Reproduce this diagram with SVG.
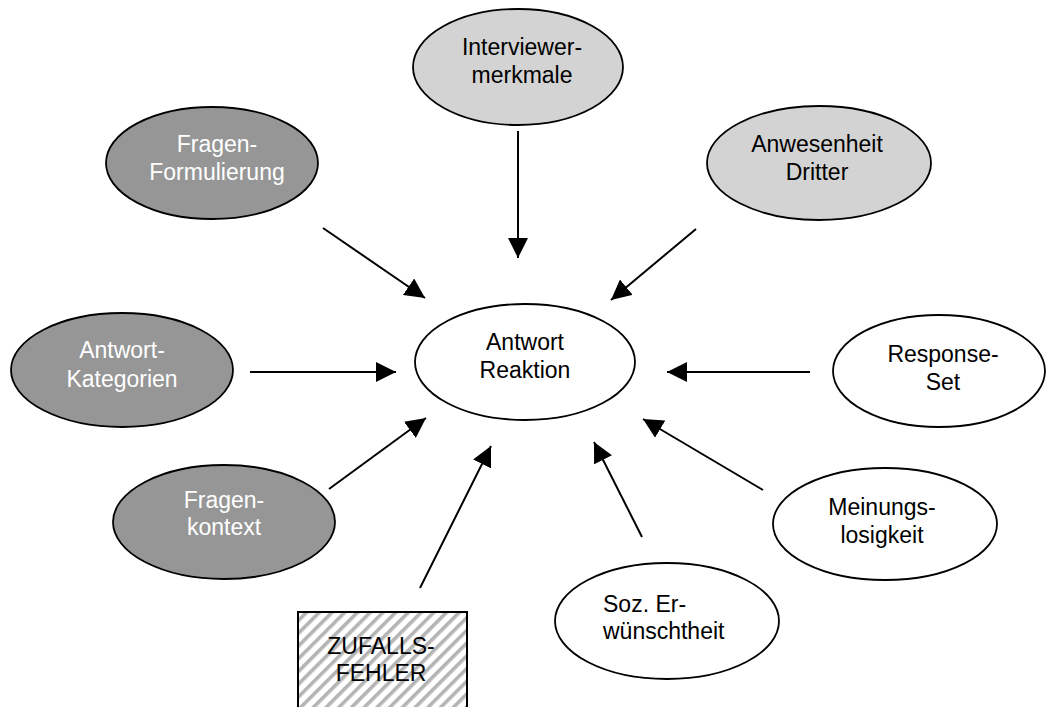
<svg xmlns="http://www.w3.org/2000/svg" width="1046" height="707" viewBox="0 0 1046 707">
<style>
.n{stroke:#000;stroke-width:1.8}
.dark{fill:#969696}
.light{fill:#d3d3d3}
.white{fill:#fff}
text{font-family:"Liberation Sans",Arial,Helvetica,sans-serif;font-size:23px;text-anchor:middle}
.wt{fill:#fff}
.bt{fill:#000}
.c line{stroke:#000;stroke-width:2;marker-end:url(#ah)}
</style>
<defs>
<marker id="ah" markerUnits="userSpaceOnUse" markerWidth="20" markerHeight="20" refX="20" refY="10" orient="auto" viewBox="0 0 20 20">
<path d="M0,0 L20,10 L0,20 z" fill="#000"/>
</marker>
<pattern id="hatch" patternUnits="userSpaceOnUse" width="9" height="9" patternTransform="rotate(45)">
<rect width="9" height="9" fill="#fff"/>
<rect width="3.6" height="9" fill="#b4b4b4"/>
</pattern>
</defs>
<rect width="1046" height="707" fill="#fff"/>
<g class="c" id="connectors">
<line x1="518" y1="131" x2="518" y2="258"/>
<line x1="323" y1="228" x2="425" y2="298"/>
<line x1="696" y1="229" x2="611" y2="300"/>
<line x1="250" y1="372" x2="396" y2="372"/>
<line x1="810" y1="372" x2="667" y2="372"/>
<line x1="329" y1="489" x2="426" y2="418"/>
<line x1="763" y1="490" x2="643" y2="419"/>
<line x1="642" y1="537" x2="594" y2="442"/>
<line x1="420" y1="588" x2="491" y2="446"/>
</g>
<g id="interviewer">
<ellipse class="n light" cx="518" cy="67" rx="105" ry="58"/>
<text class="bt" x="522" y="55">Interviewer-</text>
<text class="bt" x="522" y="83">merkmale</text>
</g>
<g id="fragen-formulierung">
<ellipse class="n dark" cx="212" cy="163" rx="106" ry="56"/>
<text class="wt" x="217" y="152">Fragen-</text>
<text class="wt" x="217" y="180">Formulierung</text>
</g>
<g id="anwesenheit">
<ellipse class="n light" cx="819" cy="163" rx="112" ry="57"/>
<text class="bt" x="817" y="152">Anwesenheit</text>
<text class="bt" x="817" y="180">Dritter</text>
</g>
<g id="antwort-kategorien">
<ellipse class="n dark" cx="122" cy="370" rx="111" ry="57"/>
<text class="wt" x="122" y="358">Antwort-</text>
<text class="wt" x="122" y="387">Kategorien</text>
</g>
<g id="antwort-reaktion">
<ellipse class="n white" cx="525" cy="362" rx="110" ry="58"/>
<text class="bt" x="525" y="350">Antwort</text>
<text class="bt" x="525" y="378">Reaktion</text>
</g>
<g id="response-set">
<ellipse class="n white" cx="939" cy="371" rx="106" ry="56"/>
<text class="bt" x="943" y="362">Response-</text>
<text class="bt" x="943" y="390">Set</text>
</g>
<g id="fragenkontext">
<ellipse class="n dark" cx="224" cy="522" rx="111" ry="57"/>
<text class="wt" x="224" y="508">Fragen-</text>
<text class="wt" x="224" y="535">kontext</text>
</g>
<g id="meinungslosigkeit">
<ellipse class="n white" cx="885" cy="524" rx="112" ry="56"/>
<text class="bt" x="882" y="515">Meinungs-</text>
<text class="bt" x="882" y="543">losigkeit</text>
</g>
<g id="soz-erwuenschtheit">
<ellipse class="n white" cx="667" cy="621" rx="112" ry="58"/>
<text class="bt" x="603" y="612" style="text-anchor:start">Soz. Er-</text>
<text class="bt" x="603" y="639" style="text-anchor:start">wünschtheit</text>
</g>
<g id="zufallsfehler">
<rect x="298" y="612" width="169" height="110" fill="url(#hatch)" stroke="#000" stroke-width="2"/>
<text class="bt" x="381" y="654">ZUFALLS-</text>
<text class="bt" x="381" y="681">FEHLER</text>
</g>
</svg>
